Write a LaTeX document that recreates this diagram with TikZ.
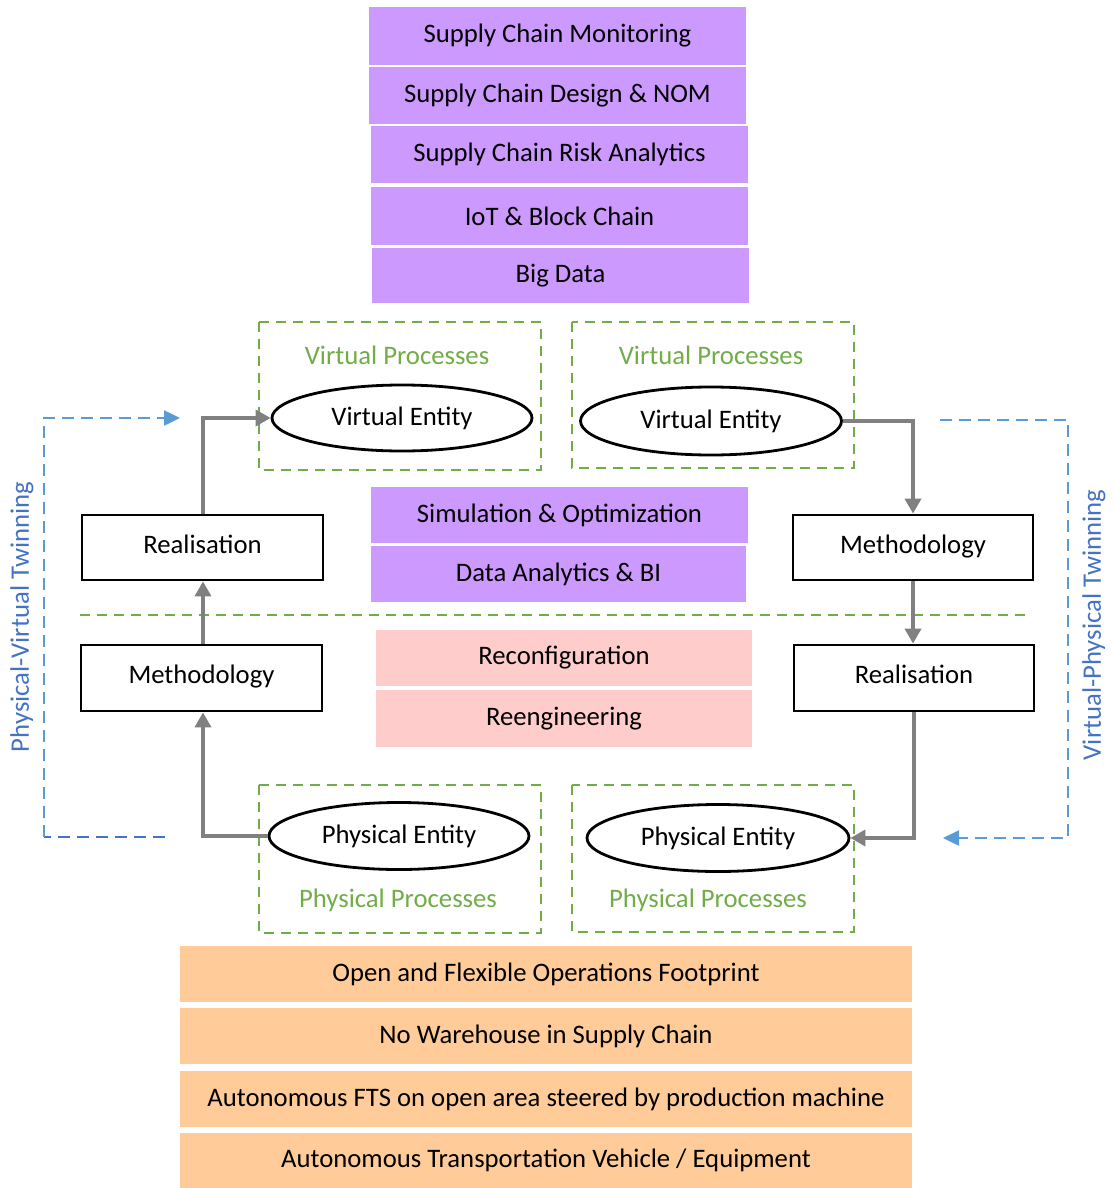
\documentclass[tikz,border=0pt]{standalone}
\usepackage{fontspec}
\setmainfont{Carlito}
\usetikzlibrary{arrows.meta,shapes.geometric}
\definecolor{purp}{HTML}{CC99FF}
\definecolor{pinkb}{HTML}{FFCCCC}
\definecolor{orang}{HTML}{FFCC99}
\definecolor{grn}{HTML}{70AD47}
\definecolor{blu}{HTML}{5B9BD5}
\definecolor{blut}{HTML}{4472C4}
\definecolor{gry}{HTML}{808080}
\tikzset{
  txt/.style={font=\fontsize{26.7}{30}\selectfont},
  band/.style={txt, draw=none, inner sep=0pt},
  blk/.style={txt, draw=black, line width=2.8pt, inner sep=0pt, text height=19pt, text depth=8pt},
  ent/.style={txt, ellipse, draw=black, line width=2.8pt, inner sep=0pt},
  proc/.style={draw=grn, dash pattern=on 10pt off 7pt, line width=2.5pt},
  plabel/.style={txt, text=grn},
  flow/.style={draw=gry, line width=3.8pt, -{Triangle[length=15pt,width=16pt]}},
  twin/.style={draw=blu, line width=2.5pt, dash pattern=on 12pt off 7pt},
  twintext/.style={txt, text=blut, rotate=90},
}
\begin{document}
\begin{tikzpicture}[x=1pt,y=-1pt]
\useasboundingbox (0,0) rectangle (1115,1188);
% purple top bands
\node[band, fill=purp, minimum width=377pt, minimum height=58pt] (b1) at (557.5,36) {Supply Chain Monitoring};
\node[band, fill=purp, minimum width=377pt, minimum height=57pt] (b2) at (557.5,95.5) {Supply Chain Design \& NOM};
\node[band, fill=purp, minimum width=377pt, minimum height=57pt] (b3) at (559.5,154.5) {Supply Chain Risk Analytics};
\node[band, fill=purp, minimum width=377pt, minimum height=58pt] (b4) at (559.5,216) {IoT \& Block Chain};
\node[band, fill=purp, minimum width=377pt, minimum height=55pt] (b5) at (560.5,275.5) {Big Data};
% process frames
\draw[proc] (259,322) rectangle (541,470);
\draw[proc] (572,322) rectangle (854,468);
\draw[proc] (259,785) rectangle (541,933);
\draw[proc] (572,785) rectangle (854,932);
\node[plabel] (vpl) at (397,355) {Virtual Processes};
\node[plabel] (vpr) at (711,355) {Virtual Processes};
\node[plabel] (ppl) at (398,900) {Physical Processes};
\node[plabel] (ppr) at (708,900) {Physical Processes};
% entities
\node[ent, minimum width=260pt, minimum height=66pt] (vel) at (402,418) {Virtual Entity};
\node[ent, minimum width=261pt, minimum height=68pt] (ver) at (711,421) {Virtual Entity};
\node[ent, minimum width=260pt, minimum height=67pt] (pel) at (399,836) {Physical Entity};
\node[ent, minimum width=262pt, minimum height=67pt] (per) at (718,838) {Physical Entity};
% middle bands
\node[band, fill=purp, minimum width=377pt, minimum height=56pt] (m1) at (559.5,515) {Simulation \& Optimization};
\node[band, fill=purp, minimum width=375pt, minimum height=56pt] (m2) at (558.5,574) {Data Analytics \& BI};
\node[band, fill=pinkb, minimum width=376pt, minimum height=56pt] (r1) at (564,658) {Reconfiguration};
\node[band, fill=pinkb, minimum width=376pt, minimum height=57pt] (r2) at (564,718.5) {Reengineering};
% divider
\draw[proc] (80,615) -- (1025,615);
% boxes
\node[blk, minimum width=241pt, minimum height=65pt] (rl) at (202.5,547.5) {Realisation};
\node[blk, minimum width=241pt, minimum height=66pt] (ml) at (201.5,678) {Methodology};
\node[blk, minimum width=240pt, minimum height=65pt] (mr) at (913,547.5) {Methodology};
\node[blk, minimum width=240pt, minimum height=66pt] (rr) at (914,678) {Realisation};
% gray flows
\draw[flow] (rl.north -| 203,0) |- (vel.west);
\draw[flow] (ml.north -| 203,0) -- (rl.south -| 203,0);
\draw[flow] (pel.west) -| (ml.south -| 203,0);
\draw[flow] (ver.east) -| (mr.north);
\draw[flow] (mr.south) -- (rr.north -| mr.south);
\draw[flow] (rr.south) |- (per.east);
% twinning loops
\coordinate (tlA) at (165,837);
\coordinate (tlB) at (44,837);
\coordinate (tlC) at (44,418);
\coordinate (tlD) at (180,418);
\draw[twin, draw=blut] (tlA) -- (tlB);
\draw[twin, -{Triangle[length=16pt,width=15pt]}] (tlB) -- (tlC) -- (tlD);
\coordinate (trA) at (940,420);
\coordinate (trB) at (1068,420);
\coordinate (trC) at (1068,838);
\coordinate (trD) at (943,838);
\draw[twin, -{Triangle[length=16pt,width=15pt]}] (trA) -- (trB) -- (trC) -- (trD);
\node[twintext] (tl) at (22,617) {Physical-Virtual Twinning};
\node[twintext] (tr) at (1094,625) {Virtual-Physical Twinning};
% bottom orange bands
\node[band, fill=orang, minimum width=732pt, minimum height=56pt] (o1) at (546,974) {Open and Flexible Operations Footprint};
\node[band, fill=orang, minimum width=732pt, minimum height=56pt] (o2) at (546,1036) {No Warehouse in Supply Chain};
\node[band, fill=orang, minimum width=732pt, minimum height=56pt] (o3) at (546,1099) {Autonomous FTS on open area steered by production machine};
\node[band, fill=orang, minimum width=732pt, minimum height=55pt] (o4) at (546,1160.5) {Autonomous Transportation Vehicle / Equipment};
\end{tikzpicture}
\end{document}
